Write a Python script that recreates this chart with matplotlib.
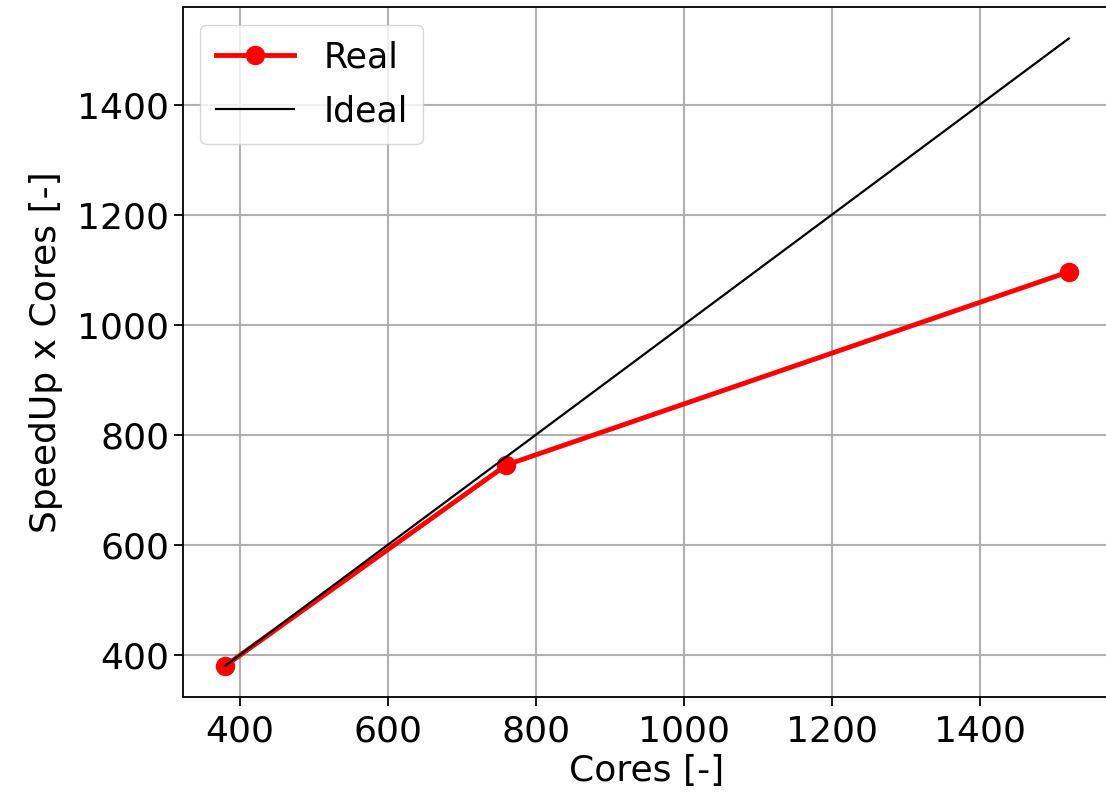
import numpy as np
import matplotlib
matplotlib.use('Agg')
import matplotlib.pyplot as plt

# Data
cores = [380, 760, 1520]
real = [380, 745, 1096]
ideal = [380, 760, 1520]

plt.rcParams['font.size'] = 26
plt.rcParams['axes.linewidth'] = 1.3

fig = plt.figure(figsize=(11.06, 7.94), dpi=100)
ax = fig.add_axes([0.1655, 0.122, 0.839, 0.869])
ax.plot(cores, real, 'o-', color='red', lw=3.5, ms=13, label='Real')
ax.plot(cores, ideal, '-', color='black', lw=1.6, label='Ideal')
ax.set_xlabel('Cores [-]', labelpad=4)
ax.set_ylabel('SpeedUp x Cores [-]', labelpad=10)
ax.set_xticks([400, 600, 800, 1000, 1200, 1400])
ax.set_yticks([400, 600, 800, 1000, 1200, 1400])
ax.tick_params(length=6.5, width=1.3, labelsize=26)
ax.tick_params(axis='x', pad=6)
ax.grid(True, color='#b0b0b0', lw=1.5)
ax.legend(loc='upper left', fontsize=25, handlelength=2.25, borderpad=0.45,
          labelspacing=0.58, handletextpad=0.84, borderaxespad=0.5,
          framealpha=0.8)
fig.savefig('out.png', dpi=100)
